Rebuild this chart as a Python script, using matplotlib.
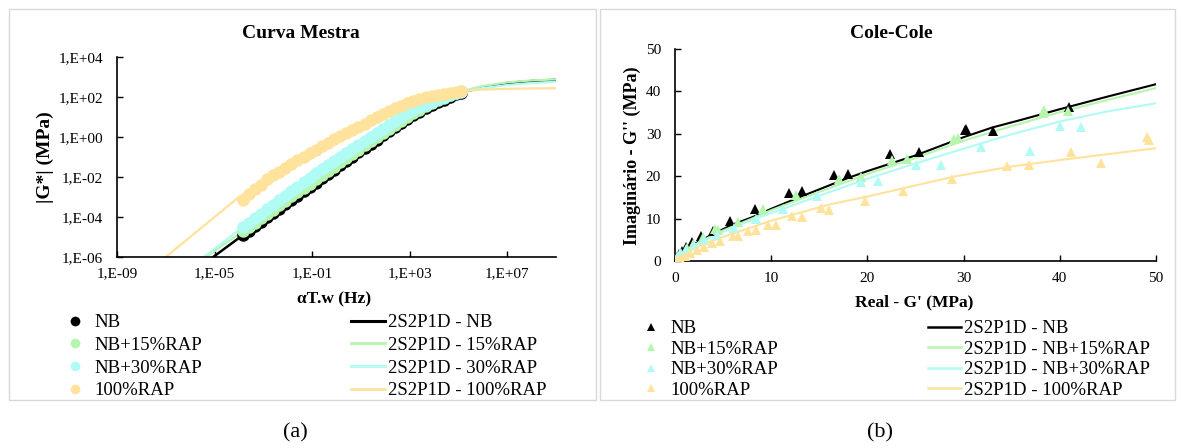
import matplotlib
matplotlib.use("Agg")
import numpy as np
import matplotlib.pyplot as plt
from matplotlib.lines import Line2D
from matplotlib.patches import Rectangle
from matplotlib.ticker import FixedLocator, FuncFormatter, NullLocator

plt.rcParams['font.family'] = ['Liberation Serif', 'DejaVu Serif']

W, H = 1181, 448

# ---- master curve data (log10 of values) ----
fit_logf = [-9, -8, -7, -6, -5, -4, -3, -2, -1, 0, 1, 2, 3, 4, 5, 6, 7, 8, 9]
fit_nb = [-9.5, -8.6, -7.75, -6.85, -5.95, -5.05, -4.15, -3.27, -2.42, -1.55,
          -0.68, 0.17, 0.98, 1.67, 2.18, 2.5, 2.7, 2.8, 2.86]
fit_15 = [-9.0, -8.2, -7.35, -6.5, -5.7, -4.85, -3.98, -3.1, -2.25, -1.4,
          -0.55, 0.3, 1.1, 1.78, 2.25, 2.55, 2.73, 2.83, 2.88]
fit_30 = [-9.0, -8.2, -7.4, -6.5, -5.6, -4.65, -3.75, -2.85, -1.95, -1.1,
          -0.3, 0.5, 1.25, 1.82, 2.22, 2.45, 2.6, 2.7, 2.76]
fit_100 = [-7.9, -6.95, -6.0, -5.0, -4.0, -3.0, -2.2, -1.45, -0.75, -0.05,
           0.58, 1.2, 1.75, 2.1, 2.28, 2.37, 2.41, 2.43, 2.44]

data_logf = [-3.85, -3.6, -3.35, -3.1, -2.85, -2.6, -2.35, -2.1, -1.85, -1.6,
             -1.35, -1.1, -0.85, -0.6, -0.35, -0.1, 0.15, 0.4, 0.65, 0.9,
             1.15, 1.4, 1.65, 1.9, 2.15, 2.4, 2.65, 2.9, 3.15, 3.4,
             3.65, 3.9, 4.15, 4.4, 4.65, 4.9, 5.1]
data_nb = [-4.92, -4.69, -4.47, -4.24, -4.02, -3.80, -3.58, -3.36, -3.14, -2.93,
           -2.72, -2.50, -2.29, -2.07, -1.85, -1.64, -1.42, -1.20, -0.98, -0.77,
           -0.55, -0.34, -0.13, 0.09, 0.29, 0.49, 0.69, 0.90, 1.08, 1.26,
           1.43, 1.60, 1.75, 1.87, 2.00, 2.13, 2.21]
data_15 = [-4.72, -4.50, -4.28, -4.07, -3.85, -3.63, -3.41, -3.19, -2.97, -2.76,
           -2.55, -2.34, -2.12, -1.91, -1.70, -1.49, -1.27, -1.06, -0.85, -0.64,
           -0.42, -0.21, 0.00, 0.22, 0.42, 0.62, 0.82, 1.02, 1.20, 1.37,
           1.54, 1.71, 1.85, 1.97, 2.08, 2.20, 2.28]
data_30 = [-4.52, -4.29, -4.07, -3.84, -3.62, -3.39, -3.17, -2.94, -2.72, -2.49,
           -2.27, -2.04, -1.82, -1.61, -1.40, -1.18, -0.98, -0.78, -0.58, -0.38,
           -0.18, 0.02, 0.22, 0.42, 0.61, 0.80, 0.99, 1.18, 1.34, 1.48,
           1.62, 1.76, 1.88, 1.98, 2.08, 2.18, 2.26]
data_100 = [-3.15, -2.85, -2.62, -2.40, -2.11, -1.92, -1.74, -1.53, -1.35, -1.17,
            -1.00, -0.82, -0.65, -0.47, -0.30, -0.12, 0.04, 0.20, 0.35, 0.51,
            0.67, 0.83, 0.98, 1.14, 1.29, 1.43, 1.57, 1.70, 1.80, 1.89,
            1.98, 2.06, 2.12, 2.17, 2.21, 2.25, 2.28]

# ---- Cole-Cole data (MPa) ----
nb_re = [41.0, 33.1, 30.3, 30.1, 25.4, 22.4, 18.0, 16.5, 13.2, 11.8, 8.3, 5.7, 3.9, 2.7, 1.8, 1.1, 0.7, 0.4, 0.2]
nb_im = [36.3, 30.6, 31.2, 30.8, 25.7, 25.2, 20.6, 20.3, 16.6, 16.0, 12.3, 9.5, 7.1, 5.8, 4.4, 3.2, 2.3, 1.6, 1.0]
r15_re = [40.9, 38.4, 38.3, 29.4, 29.0, 24.1, 22.6, 19.3, 17.0, 12.6, 9.1, 6.5, 4.5, 4.2, 2.9, 1.9, 1.2, 0.6, 0.3]
r15_im = [35.3, 35.7, 35.0, 29.1, 28.8, 24.0, 23.8, 19.9, 19.3, 15.5, 12.2, 9.3, 7.3, 7.6, 5.6, 4.1, 3.0, 2.0, 1.2]
r30_re = [42.2, 40.0, 36.9, 31.8, 27.6, 25.0, 21.1, 19.3, 14.8, 11.2, 8.4, 6.1, 4.4, 3.0, 2.0, 1.1, 0.55, 0.2]
r30_im = [31.5, 31.8, 26.0, 27.0, 22.7, 22.7, 18.8, 18.6, 15.3, 12.3, 9.8, 7.7, 6.2, 5.0, 3.8, 2.8, 1.8, 0.9]
r100_re = [49.1, 49.3, 41.2, 44.3, 36.8, 34.5, 28.8, 23.7, 19.8, 16.0, 15.2, 13.2, 12.2, 10.5, 9.7,
           8.4, 7.6, 6.6, 6.0, 4.7, 3.8, 3.0, 2.3, 1.6, 1.0, 0.5, 0.15]
r100_im = [29.3, 28.5, 25.7, 23.1, 22.7, 22.3, 19.3, 16.6, 14.2, 12.1, 12.6, 10.3, 10.5, 8.6, 8.5,
           7.2, 7.1, 5.9, 6.0, 4.7, 4.3, 3.2, 2.5, 1.9, 1.2, 0.6, 0.2]

nbfit_re = [0, 0.5, 1, 2, 3, 4, 6, 8, 10, 13, 16, 18, 20, 25, 30, 33, 36, 40, 45, 50]
nbfit_im = [0, 1.6, 2.6, 4.0, 5.2, 6.4, 8.6, 10.3, 12.3, 15.1, 17.8, 19.6, 21.2, 24.9, 29.2, 31.5, 33.3, 35.8, 38.8, 41.7]
fit15_re = [0, 0.5, 1, 2, 3, 5, 8, 10, 15, 20, 25, 30, 35, 40, 45, 50]
fit15_im = [0, 1.5, 2.4, 3.8, 5.0, 7.2, 10.0, 12.0, 16.3, 20.5, 24.3, 28.4, 31.8, 35.1, 38.0, 40.8]
fit30_re = [0, 0.5, 1, 2, 3, 5, 8.5, 10, 15, 20, 25, 30, 35, 40, 45, 50]
fit30_im = [0, 1.4, 2.2, 3.6, 4.8, 6.9, 10.1, 11.3, 15.4, 19.4, 23.0, 26.5, 29.9, 32.9, 35.3, 37.2]
fit100_re = [0, 0.5, 1, 2, 3, 5, 7, 10, 13, 16, 20, 24, 29, 35, 40, 45, 50]
fit100_im = [0, 0.9, 1.7, 2.9, 4.0, 5.7, 7.2, 9.5, 11.4, 13.3, 15.2, 17.3, 19.9, 22.3, 23.8, 25.2, 26.6]

c_nb, c_15, c_30, c_100 = '#000000', '#b6f5ae', '#b0fbf4', '#ffe29c'
data_labels = ['NB', 'NB+15%RAP', 'NB+30%RAP', '100%RAP']
fit_labels_a = ['2S2P1D - NB', '2S2P1D - 15%RAP', '2S2P1D - 30%RAP', '2S2P1D - 100%RAP']
fit_labels_b = ['2S2P1D - NB', '2S2P1D - NB+15%RAP', '2S2P1D - NB+30%RAP', '2S2P1D - 100%RAP']
colors = [c_nb, c_15, c_30, c_100]


def fx(x):
    return x / W


def fy(y):
    return 1 - y / H


def rect(x0, y0, x1, y1):
    return [fx(x0), fy(y1), (x1 - x0) / W, (y1 - y0) / H]


fig = plt.figure(figsize=(W / 100, H / 100), dpi=100)

# panel frames
for x0, x1 in [(9, 596), (600, 1175)]:
    fig.patches.append(Rectangle((fx(x0), fy(400)), (x1 - x0) / W, 391 / H,
                                 transform=fig.transFigure, fill=False,
                                 edgecolor='#d9d9d9', linewidth=1.0))


def style(ax):
    for s in ['top', 'right']:
        ax.spines[s].set_visible(False)
    for s in ['left', 'bottom']:
        ax.spines[s].set_linewidth(1.2)
    ax.tick_params(direction='in', length=4, width=1.0, labelsize=11)
    ax.tick_params(axis='y', pad=10)
    ax.tick_params(axis='x', pad=7)


# ---- (a) master curve ----
ax1 = fig.add_axes(rect(117, 57, 556, 257))
p = lambda v: [10 ** t for t in v]
for f, c, lw in [(fit_nb, c_nb, 1.8), (fit_15, c_15, 1.6), (fit_30, c_30, 1.6), (fit_100, c_100, 1.6)]:
    ax1.plot(p(fit_logf), p(f), color=c, lw=lw, zorder=2)
for d, c in [(data_nb, c_nb), (data_15, c_15), (data_30, c_30), (data_100, c_100)]:
    ax1.plot(p(data_logf), p(d), 'o', color=c, ms=9, mew=0, zorder=3)
ax1.set_xscale('log')
ax1.set_yscale('log')
ax1.set_xlim(1e-9, 1e9)
ax1.set_ylim(1e-6, 1e4)
ax1.xaxis.set_major_locator(FixedLocator([1e-9, 1e-5, 1e-1, 1e3, 1e7]))
ax1.yaxis.set_major_locator(FixedLocator([1e-6, 1e-4, 1e-2, 1e0, 1e2, 1e4]))
ax1.xaxis.set_minor_locator(NullLocator())
ax1.yaxis.set_minor_locator(NullLocator())
fmt = FuncFormatter(lambda v, pos: '1,E{:+03d}'.format(int(round(np.log10(v)))))
ax1.xaxis.set_major_formatter(fmt)
ax1.yaxis.set_major_formatter(fmt)
style(ax1)

fig.text(fx(301), fy(33), 'Curva Mestra', ha='center', va='center', fontsize=14, fontweight='bold')
fig.text(fx(45), fy(157), '|G*| (MPa)', ha='center', va='center', rotation=90, fontsize=14, fontweight='bold')
fig.text(fx(334), fy(299), 'αT.w (Hz)', ha='center', va='center', fontsize=12.5, fontweight='bold')

h_data = [Line2D([], [], ls='none', marker='o', color=c, ms=7, mew=0) for c in colors]
h_fit = [Line2D([], [], color=c, lw=2.2 if c == c_nb else 2.0) for c in colors]
leg_kw = dict(frameon=False, fontsize=13.5, borderpad=0, borderaxespad=0,
              loc='upper left', bbox_transform=fig.transFigure)
l1 = fig.legend(h_data, data_labels, bbox_to_anchor=(fx(66), fy(314)),
                handlelength=1.0, handletextpad=0.5, labelspacing=0.3, **leg_kw)
l2 = fig.legend(h_fit, fit_labels_a, bbox_to_anchor=(fx(351), fy(314)),
                handlelength=1.8, handletextpad=0.16, labelspacing=0.3, **leg_kw)

# ---- (b) Cole-Cole ----
ax2 = fig.add_axes(rect(675, 49, 1156, 261))
for xr, yi, c in [(nbfit_re, nbfit_im, c_nb), (fit15_re, fit15_im, c_15),
                  (fit30_re, fit30_im, c_30), (fit100_re, fit100_im, c_100)]:
    ax2.plot(xr, yi, color=c, lw=1.5, zorder=2)
for xr, yi, c in [(nb_re, nb_im, c_nb), (r15_re, r15_im, c_15),
                  (r30_re, r30_im, c_30), (r100_re, r100_im, c_100)]:
    ax2.plot(xr, yi, '^', color=c, ms=7, mew=0, zorder=3)
ax2.set_xlim(0, 50)
ax2.set_ylim(0, 50)
ax2.set_xticks([0, 10, 20, 30, 40, 50])
ax2.set_yticks([0, 10, 20, 30, 40, 50])
style(ax2)
ax2.tick_params(axis='x', pad=8)

fig.text(fx(891), fy(33), 'Cole-Cole', ha='center', va='center', fontsize=14, fontweight='bold')
fig.text(fx(632), fy(156), "Imaginário - G'' (MPa)", ha='center', va='center', rotation=90,
         fontsize=13, fontweight='bold')
fig.text(fx(914), fy(302), "Real - G' (MPa)", ha='center', va='center', fontsize=12.5, fontweight='bold')

h_tri = [Line2D([], [], ls='none', marker='^', color=c, ms=6, mew=0) for c in colors]
h_fit2 = [Line2D([], [], color=c, lw=1.8) for c in colors]
l3 = fig.legend(h_tri, data_labels, bbox_to_anchor=(fx(642), fy(320)),
                handlelength=1.0, handletextpad=0.5, labelspacing=0.18, **leg_kw)
l4 = fig.legend(h_fit2, fit_labels_b, bbox_to_anchor=(fx(928), fy(320)),
                handlelength=1.75, handletextpad=0.16, labelspacing=0.18, **leg_kw)

fig.text(fx(295), fy(433), '(a)', ha='center', va='center', fontsize=16)
fig.text(fx(880), fy(433), '(b)', ha='center', va='center', fontsize=16)

fig.savefig('out.png', dpi=100)
